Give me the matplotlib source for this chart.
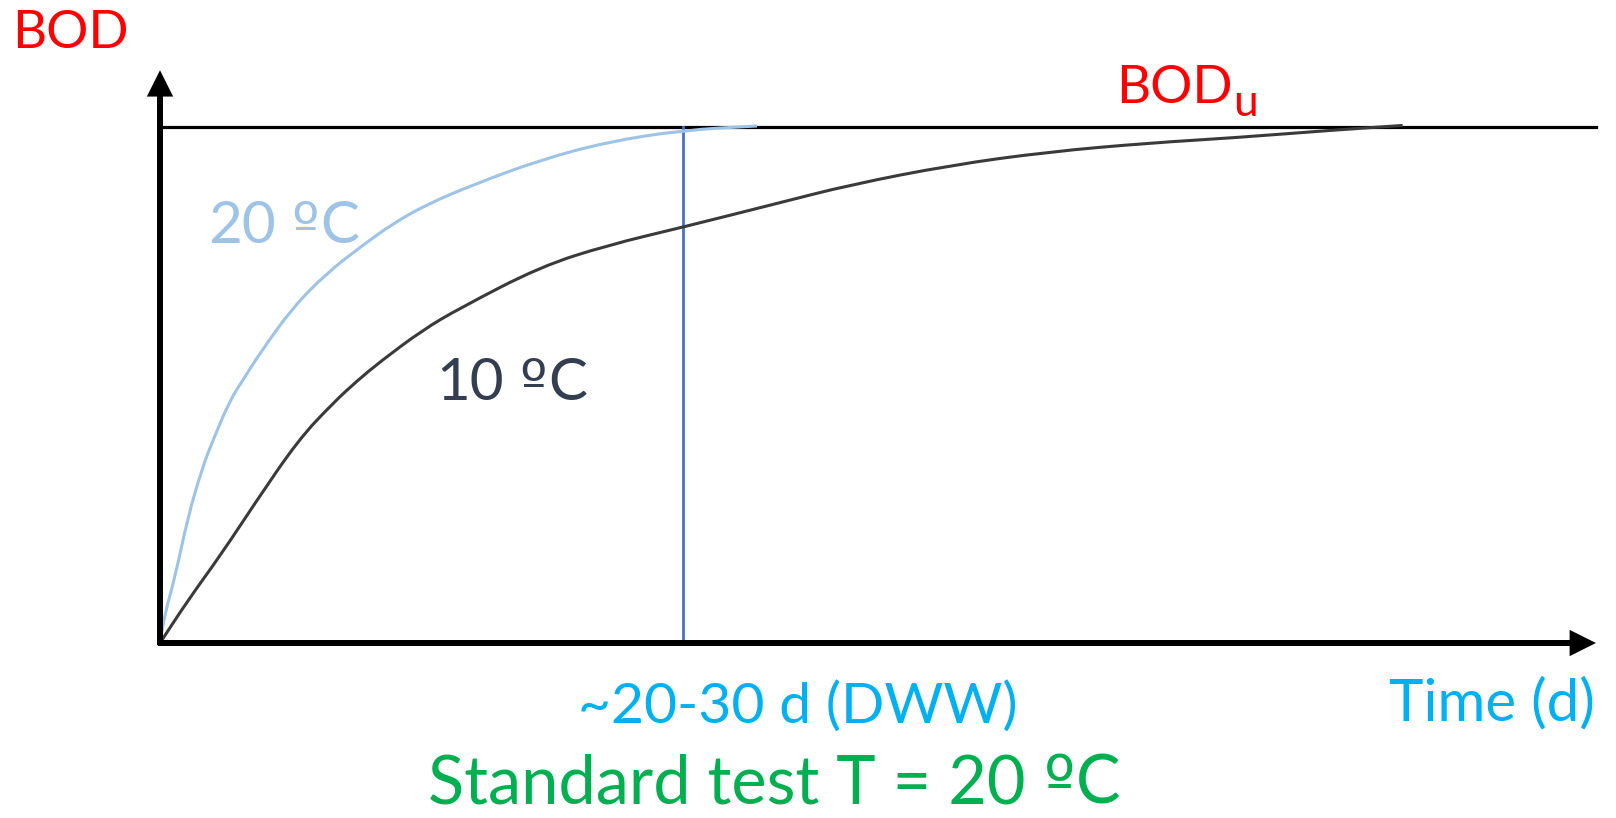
import matplotlib
matplotlib.use("Agg")
import matplotlib.pyplot as plt
from matplotlib.path import Path
from matplotlib.patches import PathPatch

plt.rcParams['font.family'] = ['Lato', 'DejaVu Sans']

# BOD curves, time in days, BOD as fraction of BODu
t_20 = [0, 0.24, 0.72, 1.34, 2.01, 2.53, 3.35, 3.97, 4.78, 6.36, 7.98, 9.56,
        11.14, 12.76, 14.96, 18.16, 21.37, 25.0, 28.54]
bod_20 = [0, 0.058, 0.128, 0.245, 0.338, 0.393, 0.471, 0.510, 0.562, 0.651,
          0.717, 0.767, 0.813, 0.850, 0.888, 0.936, 0.971, 0.994, 1.002]

t_10 = [0, 1.34, 2.96, 4.54, 6.6, 8.27, 9.42, 10.52, 12.57, 14.34, 18.16, 21.4,
        25.0, 29.6, 33.0, 37.8, 42.5, 47.3, 51.3, 56.1, 59.4]
bod_10 = [0, 0.083, 0.174, 0.271, 0.393, 0.465, 0.508, 0.545, 0.607, 0.649,
          0.729, 0.771, 0.806, 0.853, 0.888, 0.926, 0.952, 0.969, 0.979,
          0.994, 1.003]

bod_u = 1.0
t_marker = 25.0     # ~20-30 d
t_axis_end = 68.64
bod_axis_end = 1.11

W, H = 1616, 818
fig = plt.figure(figsize=(W / 100, H / 100), dpi=100)
ax = fig.add_axes([0, 0, 1, 1])
# origin sits at pixel (160, 643); 20.92 px per day, 516 px per BODu
ax.set_xlim(-160 / 20.92, (W - 160) / 20.92)
ax.set_ylim((643 - H) / 516, 643 / 516)
ax.axis('off')


def smooth_curve(xs, ys, color):
    # quadratic segments through the midpoints, so the drawn line has no kinks
    pts = list(zip(xs, ys))
    verts = [pts[0], ((pts[0][0] + pts[1][0]) / 2, (pts[0][1] + pts[1][1]) / 2)]
    codes = [Path.MOVETO, Path.LINETO]
    for i in range(1, len(pts) - 1):
        mid = ((pts[i][0] + pts[i + 1][0]) / 2, (pts[i][1] + pts[i + 1][1]) / 2)
        verts += [pts[i], mid]
        codes += [Path.CURVE3, Path.CURVE3]
    verts.append(pts[-1])
    codes.append(Path.LINETO)
    ax.add_patch(PathPatch(Path(verts, codes), fill=False, edgecolor=color,
                           lw=2.2, capstyle='butt', zorder=3))


smooth_curve(t_20, bod_20, '#9DC3E6')
smooth_curve(t_10, bod_10, '#3A3A3A')

# BODu level and marker line
ax.plot([0, t_axis_end], [bod_u, bod_u], color='black', lw=2.3, zorder=2)
ax.plot([t_marker, t_marker], [0, bod_u], color='#4472C4', lw=2, zorder=2)

# axes with arrows
arrow = dict(arrowstyle='-|>,head_length=0.6,head_width=0.3', lw=4.3,
             color='black', shrinkA=0, shrinkB=0, mutation_scale=20,
             joinstyle='miter', capstyle='butt')
ax.annotate('', xy=(0, bod_axis_end), xytext=(0, -0.004), arrowprops=arrow, zorder=4)
ax.annotate('', xy=(t_axis_end, 0), xytext=(-0.1, 0), arrowprops=arrow, zorder=4)

fig.canvas.draw()
rend = fig.canvas.get_renderer()


def put(x, y, s, color, size, family=None):
    kw = {} if family is None else {'family': family}
    t = fig.text(x / W, 1 - y / H, s, color=color, fontsize=size,
                 va='baseline', ha='left', **kw)
    return t.get_window_extent(rend).x1


def put_deg(x, y, num, color, size):
    # "º" taken from DejaVu Sans, which draws it with the underline bar
    k = size / 42
    x1 = put(x, y, num, color, size)
    x2 = put(x1 + 16 * k, y, 'º', color, size, 'DejaVu Sans')
    put(x2 + 1, y, 'C', color, size)


put(12, 48, 'BOD', '#FF0000', 38)
x_end = put(1116, 103, 'BOD', '#FF0000', 38)
put(x_end + 0.5, 116, 'u', '#FF0000', 32)
put_deg(208, 243, '20', '#9DC3E6', 42)
put_deg(436, 400, '10', '#333F50', 42)
put(578, 723, '~20-30 d (DWW)', '#00B0F0', 41)
put(1389, 720, 'Time (d)', '#00B0F0', 42)
put_deg(428, 803, 'Standard test T = 20', '#00B050', 48)

fig.savefig('out.png', dpi=100)
